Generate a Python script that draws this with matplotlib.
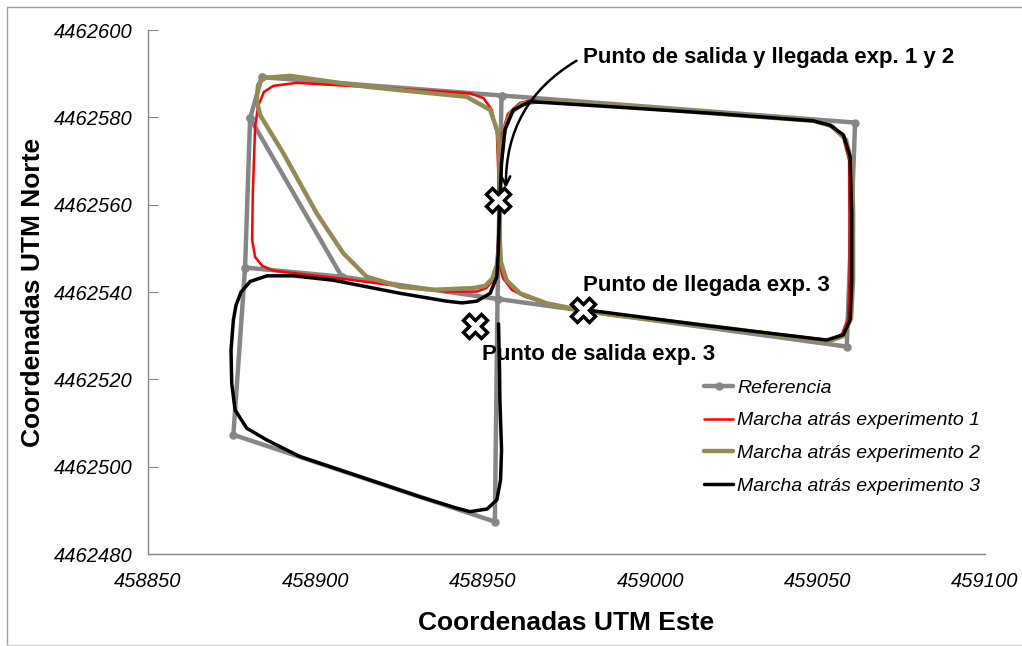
import matplotlib.pyplot as plt
import numpy as np
from matplotlib.lines import Line2D

plt.rcParams['font.family'] = ['Liberation Sans', 'DejaVu Sans']

# reference path (vertices of the planned route), nan = break in the line
ref_este = [458884.0, 458880.5, 458879.0, 458875.5, 458953.6, 458954.4, 458955.6,
            458884.0, np.nan, 458955.6, 459061.2, 459058.7, 458954.4, 458907.9,
            458879.0, np.nan, 458880.5, 458907.9]
ref_norte = [4462589.2, 4462579.8, 4462545.6, 4462507.3, 4462487.4, 4462538.4, 4462585.0,
             4462589.2, np.nan, 4462585.0, 4462578.8, 4462527.5, 4462538.4, 4462543.5,
             4462545.6, np.nan, 4462579.8, 4462543.5]

exp1_este = [458954.7, 458954.6, 458954.8, 458956.0, 458958.7, 458962.6, 458969.1, 458979.0,
             458989.0, 459018.9, 459048.7, 459053.7, 459057.3, 459059.1, 459059.5, 459059.5,
             459059.4, 459057.6, 459053.7, 459048.7, 459018.9, 458989.0, 458965.1, 458961.1,
             458957.5, 458955.7, 458954.8, 458954.7, 458954.6, 458954.2, 458953.1, 458951.0,
             458948.2, 458939.2, 458924.3, 458907.4, 458887.4, 458884.1, 458882.0, 458881.1,
             458881.3, 458882.0, 458882.9, 458884.6, 458887.4, 458894.4, 458914.3, 458934.2,
             458946.2, 458950.2, 458952.7, 458954.2, 458954.6, 458954.7]
exp1_norte = [4462561.1, 4462551.9, 4462546.9, 4462543.2, 4462540.5, 4462538.9, 4462537.4,
              4462535.9, 4462534.7, 4462532.1, 4462529.4, 4462529.0, 4462530.4, 4462534.0,
              4462542.7, 4462558.1, 4462570.2, 4462575.5, 4462578.0, 4462579.2, 4462580.9,
              4462582.8, 4462584.0, 4462583.3, 4462580.8, 4462576.0, 4462569.1, 4462561.1,
              4462551.9, 4462546.9, 4462542.7, 4462540.9, 4462540.1, 4462540.1, 4462541.4,
              4462543.1, 4462544.9, 4462546.0, 4462548.0, 4462551.9, 4462562.6, 4462577.9,
              4462582.6, 4462585.8, 4462587.2, 4462587.9, 4462587.0, 4462586.1, 4462585.5,
              4462584.4, 4462581.7, 4462576.3, 4462567.9, 4462561.1]

exp2_este = [458955.1, 458955.1, 458955.4, 458957.1, 458961.1, 458969.1, 458979.0, 458989.0,
             459018.9, 459048.7, 459053.7, 459057.6, 459060.0, 459060.6, 459060.6, 459060.3,
             459058.5, 459054.3, 459048.7, 459018.9, 458989.0, 458967.1, 458961.7, 458958.4,
             458956.6, 458955.4, 458955.1, 458955.0, 458954.2, 458952.8, 458950.7, 458947.2,
             458935.2, 458925.3, 458915.3, 458908.3, 458900.4, 458890.4, 458883.5, 458882.4,
             458882.9, 458884.4, 458892.4, 458915.3, 458945.2, 458952.2, 458954.6, 458955.0,
             458955.1]
exp2_norte = [4462561.1, 4462551.9, 4462546.9, 4462542.7, 4462539.7, 4462537.4, 4462535.9,
              4462534.7, 4462532.1, 4462529.1, 4462528.8, 4462529.9, 4462534.0, 4462542.7,
              4462558.1, 4462569.1, 4462574.8, 4462578.0, 4462579.2, 4462580.9, 4462582.8,
              4462583.7, 4462583.1, 4462581.0, 4462577.6, 4462570.2, 4462561.1, 4462551.9,
              4462546.2, 4462543.0, 4462541.4, 4462540.9, 4462540.5, 4462541.2, 4462543.5,
              4462548.9, 4462558.0, 4462571.8, 4462580.5, 4462584.0, 4462587.4, 4462589.0,
              4462589.5, 4462587.0, 4462584.7, 4462581.7, 4462576.3, 4462569.1, 4462561.1]

exp3_este = [458954.7, 458955.0, 458955.1, 458955.6, 458955.3, 458954.2, 458951.3, 458946.2,
             458942.2, 458931.2, 458915.3, 458895.4, 458885.5, 458879.5, 458876.0, 458875.0,
             458874.8, 458875.5, 458876.3, 458877.8, 458880.5, 458885.5, 458893.4, 458905.3,
             458925.3, 458939.2, 458943.8, 458948.2, 458952.2, 458954.2, 458954.6, 458954.9,
             458955.1, 458955.6, 458956.6, 458959.1, 458964.1, 458989.0, 459018.9, 459048.7,
             459053.7, 459057.7, 459059.7, 459060.2, 459060.2, 459059.7, 459057.7, 459052.7,
             459018.9, 458984.0, 458980.0]
exp3_norte = [4462532.7, 4462522.1, 4462515.3, 4462503.8, 4462496.9, 4462492.4, 4462490.3,
              4462489.7, 4462490.5, 4462493.1, 4462497.2, 4462502.3, 4462506.1, 4462508.8,
              4462513.0, 4462519.1, 4462526.7, 4462533.6, 4462537.0, 4462540.0, 4462542.4,
              4462543.7, 4462543.7, 4462542.7, 4462539.7, 4462537.9, 4462537.5, 4462537.9,
              4462539.7, 4462543.5, 4462548.9, 4462556.5, 4462561.1, 4462569.5, 4462577.1,
              4462581.7, 4462583.6, 4462582.4, 4462580.9, 4462579.2, 4462578.2, 4462576.0,
              4462571.0, 4462558.0, 4462542.7, 4462533.6, 4462530.2, 4462529.0, 4462532.1,
              4462535.6, 4462535.9]

# start / arrival points
puntos_este = [458954.5, 458947.7, 458980.0]
puntos_norte = [4462561.1, 4462532.1, 4462535.9]

labels = ["Referencia", "Marcha atrás experimento 1",
          "Marcha atrás experimento 2", "Marcha atrás experimento 3"]
gris = '#868686'

fig = plt.figure(figsize=(10.22, 6.46), dpi=100)
ax = fig.add_axes([148 / 1022, 1 - 554 / 646, 837 / 1022, 524 / 646])

suave = dict(solid_joinstyle='round', solid_capstyle='round')
ax.plot(ref_este, ref_norte, color=gris, lw=3.2, marker='o', ms=5,
        mfc=gris, mec=gris, label=labels[0], zorder=2, **suave)
ax.plot(exp1_este, exp1_norte, color='#ff0000', lw=1.8, label=labels[1], zorder=3, **suave)
ax.plot(exp2_este, exp2_norte, color='#948a54', lw=3.2, label=labels[2], zorder=4, **suave)
ax.plot(exp3_este, exp3_norte, color='black', lw=2.5, label=labels[3], zorder=5, **suave)
ax.plot(puntos_este, puntos_norte, ls='none', marker='X', ms=17, mfc='white',
        mec='black', mew=2.5, zorder=7)

ax.annotate("Punto de salida y llegada exp. 1 y 2", xy=(458956.9, 4462563.8),
            xytext=(458979.9, 4462593.8), ha='left', va='center',
            fontsize=16, fontweight='bold', zorder=8,
            arrowprops=dict(arrowstyle='->', color='black', lw=1.8,
                            connectionstyle='arc3,rad=0.3', relpos=(0, 0.5),
                            shrinkA=3, shrinkB=0))
ax.text(458979.9, 4462541.6, "Punto de llegada exp. 3", ha='left', va='center',
        fontsize=16, fontweight='bold', zorder=8)
ax.text(458949.9, 4462525.6, "Punto de salida exp. 3", ha='left', va='center',
        fontsize=16, fontweight='bold', zorder=8)

ax.set_xlim(458850, 459100)
ax.set_ylim(4462480, 4462600)
ax.set_xticks(np.arange(458850, 459101, 50))
ax.set_yticks(np.arange(4462480, 4462601, 20))
ax.ticklabel_format(useOffset=False, style='plain')

for s in ['top', 'right']:
    ax.spines[s].set_visible(False)
for s in ['left', 'bottom']:
    ax.spines[s].set_color(gris)
    ax.spines[s].set_linewidth(1.0)

ax.tick_params(axis='y', direction='in', length=7, color=gris, pad=11, labelsize=14.5)
ax.tick_params(axis='x', length=0, pad=13, labelsize=14.5)
for t in ax.get_xticklabels() + ax.get_yticklabels():
    t.set_fontstyle('italic')

ax.set_xlabel("Coordenadas UTM Este", fontsize=19, fontweight='bold')
ax.set_ylabel("Coordenadas UTM Norte", fontsize=19, fontweight='bold')
ax.xaxis.label.set_va('baseline')
ax.xaxis.set_label_coords(0.5, (554 - 630) / 524)
ax.yaxis.label.set_va('center')
ax.yaxis.set_label_coords((33 - 148) / 837, 0.5)

leg = ax.legend(loc='upper left', bbox_to_anchor=(704 / 1022, 1 - 379 / 646),
                bbox_transform=fig.transFigure, frameon=False,
                prop={'style': 'italic', 'size': 14}, borderpad=0, borderaxespad=0,
                handlelength=1.5, handletextpad=0.2, labelspacing=0.78)

# chart area border
fig.add_artist(Line2D([7 / 1022, 7 / 1022, 1.01], [1 - 645 / 646, 1 - 7 / 646, 1 - 7 / 646],
                      transform=fig.transFigure, color='#a0a0a0', lw=1))
fig.add_artist(Line2D([7 / 1022, 1.01], [1 - 645 / 646, 1 - 645 / 646],
                      transform=fig.transFigure, color='#d0d0d0', lw=1))

fig.savefig('out.png', dpi=100)
